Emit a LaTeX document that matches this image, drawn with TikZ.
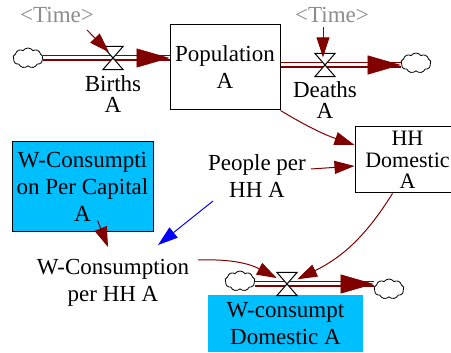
\documentclass[tikz,border=0pt]{standalone}
\usepackage{fontspec}
\setmainfont{Liberation Serif}
\usetikzlibrary{arrows.meta,shapes.symbols}
\definecolor{dred}{RGB}{128,0,0}
\definecolor{cyanbox}{RGB}{0,191,255}
\definecolor{tgray}{RGB}{140,140,140}
\begin{document}
\begin{tikzpicture}[x=1pt,y=-1pt,
  lbl/.style={font=\fontsize{23}{27}\selectfont, align=center, inner sep=0pt},
  lbltight/.style={font=\fontsize{23}{21}\selectfont, align=center, inner sep=0pt},
  stock/.style={draw=black, line width=1pt, inner sep=0pt, align=center, font=\fontsize{23}{27}\selectfont},
  cloudnode/.style={cloud, cloud puffs=9, cloud puff arc=110, aspect=1.5, draw=black, line width=0.8pt, fill=white, minimum width=30pt, minimum height=20pt, inner sep=0pt},
  valvebox/.style={minimum width=20pt, minimum height=23pt, inner sep=0pt},
  valveshape/.style={draw=black, line width=1pt, fill=white},
  pipe/.style={draw=dred, line width=1.4pt, double=white, double distance=3pt},
  bigtip/.style={draw=dred, line width=0.5pt, -{Triangle[length=33pt,width=19pt]}},
  conn/.style={draw=dred, line width=1pt, -{Triangle[length=20pt,width=13pt]}},
  bconn/.style={draw=blue, line width=1pt, -{Triangle[length=20pt,width=13pt]}},
]
\clip (0,0) rectangle (451,353);
\fill[white] (0,0) rectangle (451,353);

% nodes
\node[lbl, text=tgray] (time1) at (57,15) {<Time>};
\node[lbl, text=tgray] (time2) at (332,15) {<Time>};
\node[cloudnode] (cL) at (28,58) {};
\node[valvebox] (vb) at (113,58) {};
\node[lbltight] (births) at (113,94) {Births\\A};
\node[stock, minimum width=110pt, minimum height=85pt] (pop) at (225,67.5) {Population\\A};
\node[valvebox] (vd) at (325,65) {};
\node[lbltight] (deaths) at (325,100) {Deaths\\A};
\node[cloudnode] (cR) at (416,63) {};
\node[stock, minimum width=105pt, minimum height=66pt, font=\fontsize{22}{21.5}\selectfont] (hh) at (407.5,160) {HH\\Domestic\\A};
\node[lbl] (people) at (257,176) {People per\\HH A};
\node[stock, fill=cyanbox, minimum width=141pt, minimum height=90pt] (wcpc) at (82.5,187) {W-Consumpti\\on Per Capital\\A};
\node[lbl] (wcphh) at (113,283) {W-Consumption\\per HH A};
\node[stock, draw=none, fill=cyanbox, minimum width=155pt, minimum height=57pt] (wcd) at (285.5,323.5) {W-consumpt\\Domestic A};
\node[cloudnode] (cB1) at (240,281) {};
\node[cloudnode] (cB2) at (389,289) {};
\node[valvebox] (vw) at (287,284) {};

% pipes
\coordinate (pB) at (cL.east -| pop.west);
\draw[pipe] (cL.east) -- (pB);
\draw[bigtip] ([xshift=-33pt]pB) -- (pB);

\coordinate (pD1) at (pop.east |- vd);
\coordinate (pD2) at (cR.west |- vd);
\draw[pipe] (pD1) -- (pD2);
\draw[bigtip] ([xshift=-33pt]pD2) -- (pD2);

\coordinate (pW1) at (cB1.east |- vw);
\coordinate (pW2) at (cB2.west |- vw);
\draw[pipe] (pW1) -- (pW2);
\draw[bigtip] ([xshift=-33pt]pW2) -- (pW2);

% valves
\draw[valveshape] (vb.north west) -- (vb.north east) -- (vb.south west) -- (vb.south east) -- cycle;
\draw[valveshape] (vd.north west) -- (vd.north east) -- (vd.south west) -- (vd.south east) -- cycle;
\draw[valveshape] (vw.north west) -- (vw.north east) -- (vw.south west) -- (vw.south east) -- cycle;

% connectors
\draw[conn] ([xshift=30pt,yshift=-15pt]time1.center) -- ([xshift=-4pt,yshift=-6pt]vb.north);
\coordinate (t2s) at (vd |- time2.south);
\draw[conn] ([xshift=-2pt,yshift=-4pt]t2s) -- ([xshift=-2pt,yshift=-4pt]vd.north);
\draw[conn] (pop.south east) to[bend right=6] ([yshift=15pt]hh.west);
\draw[conn] ([xshift=54pt,yshift=7pt]people.center) -- ([yshift=-6pt]hh.west);
\draw[bconn] ([xshift=-44pt,yshift=-25pt]people.center) -- ([xshift=45pt,yshift=38pt]wcphh.center);
\draw[conn] ([xshift=15pt,yshift=12pt]wcpc.south) -- ([xshift=-5pt,yshift=36pt]wcphh.center);
\draw[conn] ([xshift=85pt,yshift=23pt]wcphh.center) to[bend left=15] (vw);
\draw[conn] ([xshift=-15pt]hh.south) to[bend left=16] (vw);
\end{tikzpicture}
\end{document}
